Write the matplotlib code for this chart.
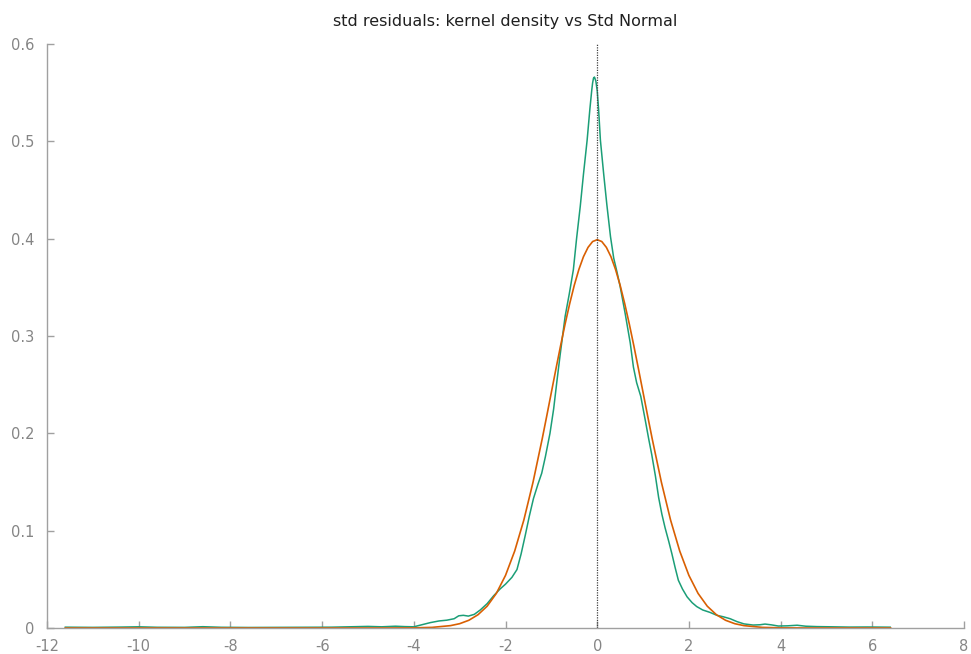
import numpy as np
import matplotlib.pyplot as plt

# kernel density dos residuos padronizados
x_kde = [-11.6, -11.0, -10.4, -10.0, -9.6, -9.0, -8.6, -8.2, -7.6, -7.0, -6.4, -5.8,
         -5.4, -5.0, -4.7, -4.4, -4.2, -4.0, -3.85, -3.64, -3.45, -3.28, -3.12, -3.02,
         -2.92, -2.81, -2.68, -2.55, -2.40, -2.26, -2.12, -2.0, -1.86, -1.75, -1.66,
         -1.57, -1.48, -1.39, -1.29, -1.21, -1.13, -1.03, -0.95, -0.88, -0.81, -0.70,
         -0.61, -0.52, -0.45, -0.37, -0.30, -0.22, -0.16, -0.12, -0.10, -0.08, -0.06,
         -0.03, 0.0, 0.03, 0.07, 0.14, 0.21, 0.29, 0.36, 0.43, 0.50, 0.61, 0.72, 0.79,
         0.86, 0.95, 1.05, 1.12, 1.19, 1.27, 1.34, 1.41, 1.48, 1.56, 1.63, 1.70, 1.77,
         1.86, 1.96, 2.07, 2.17, 2.30, 2.46, 2.61, 2.75, 2.90, 3.05, 3.20, 3.40, 3.55,
         3.66, 3.80, 3.95, 4.15, 4.36, 4.55, 4.79, 5.1, 5.5, 5.9, 6.39]
y_kde = [0.0008, 0.0006, 0.0009, 0.0012, 0.0007, 0.0006, 0.0013, 0.0007, 0.0005, 0.0006,
         0.0007, 0.0008, 0.0012, 0.0016, 0.0012, 0.0018, 0.0014, 0.0012, 0.0030, 0.0055,
         0.0072, 0.0080, 0.0095, 0.0125, 0.0130, 0.0122, 0.0140, 0.0185, 0.0250, 0.0330,
         0.0400, 0.0450, 0.0520, 0.0600, 0.0760, 0.0950, 0.1150, 0.1330, 0.1480, 0.1590,
         0.1760, 0.2000, 0.2250, 0.2530, 0.2800, 0.3200, 0.3430, 0.3680, 0.4000, 0.4330,
         0.4660, 0.5010, 0.5330, 0.5520, 0.5600, 0.5650, 0.5660, 0.5620, 0.5520, 0.5330,
         0.5010, 0.4670, 0.4350, 0.4020, 0.3800, 0.3660, 0.3510, 0.3230, 0.2930, 0.2680,
         0.2520, 0.2380, 0.2130, 0.1950, 0.1780, 0.1560, 0.1340, 0.1170, 0.1030, 0.0890,
         0.0760, 0.0620, 0.0490, 0.0400, 0.0320, 0.0260, 0.0220, 0.0185, 0.0160, 0.0130,
         0.0115, 0.0095, 0.0065, 0.0042, 0.0030, 0.0033, 0.0040, 0.0032, 0.0020, 0.0022,
         0.0028, 0.0018, 0.0014, 0.0012, 0.0009, 0.0010, 0.0008]

# densidade normal padrao
x_norm = [-11.6, -6.0, -4.5, -4.0, -3.6, -3.2, -3.0, -2.8, -2.6, -2.4, -2.2, -2.0, -1.8,
          -1.6, -1.4, -1.2, -1.1, -1.0, -0.9, -0.8, -0.7, -0.6, -0.5, -0.4, -0.3, -0.2,
          -0.1, 0.0, 0.1, 0.2, 0.3, 0.4, 0.5, 0.6, 0.7, 0.8, 0.9, 1.0, 1.1, 1.2, 1.4,
          1.6, 1.8, 2.0, 2.2, 2.4, 2.6, 2.8, 3.0, 3.2, 3.6, 4.0, 4.5, 6.4]
y_norm = [0.0, 0.0, 0.00002, 0.00013, 0.0006, 0.0024, 0.0044, 0.0079, 0.0136, 0.0224,
          0.0355, 0.0540, 0.0790, 0.1109, 0.1497, 0.1942, 0.2179, 0.2420, 0.2661, 0.2897,
          0.3123, 0.3332, 0.3521, 0.3683, 0.3814, 0.3910, 0.3970, 0.3989, 0.3970, 0.3910,
          0.3814, 0.3683, 0.3521, 0.3332, 0.3123, 0.2897, 0.2661, 0.2420, 0.2179, 0.1942,
          0.1497, 0.1109, 0.0790, 0.0540, 0.0355, 0.0224, 0.0136, 0.0079, 0.0044, 0.0024,
          0.0006, 0.00013, 0.00002, 0.0]

x_ticks = [-12, -10, -8, -6, -4, -2, 0, 2, 4, 6, 8]
y_ticks = [0, 0.1, 0.2, 0.3, 0.4, 0.5, 0.6]
y_labels = ['0', '0.1', '0.2', '0.3', '0.4', '0.5', '0.6']

fig = plt.figure(figsize=(9.71, 6.54), dpi=100)
ax = fig.add_axes([0.0484, 0.0398, 0.9444, 0.893])

ax.plot(x_kde, y_kde, color='#1b9e77', lw=1.1)
ax.plot(x_norm, y_norm, color='#d95f02', lw=1.2)
ax.plot([0, 0], [0, 0.6], color='#404040', lw=0.9, linestyle=(0, (1, 1)))

ax.set_xlim(-12, 8)
ax.set_ylim(0, 0.6)
ax.set_xticks(x_ticks)
ax.set_xticklabels([str(t) for t in x_ticks])
ax.set_yticks(y_ticks)
ax.set_yticklabels(y_labels)

for s in ['top', 'right']:
    ax.spines[s].set_visible(False)
for s in ['left', 'bottom']:
    ax.spines[s].set_color('#a0a0a0')
    ax.spines[s].set_linewidth(1.0)
ax.tick_params(direction='in', length=5, width=1, color='#a0a0a0',
               labelcolor='#858585', labelsize=10.5)
ax.tick_params(axis='x', pad=8)
ax.tick_params(axis='y', pad=9)

ax.set_title('std residuals: kernel density vs Std Normal', fontsize=11.5, color='#202020', pad=13)

fig.savefig('out.png', dpi=100)
